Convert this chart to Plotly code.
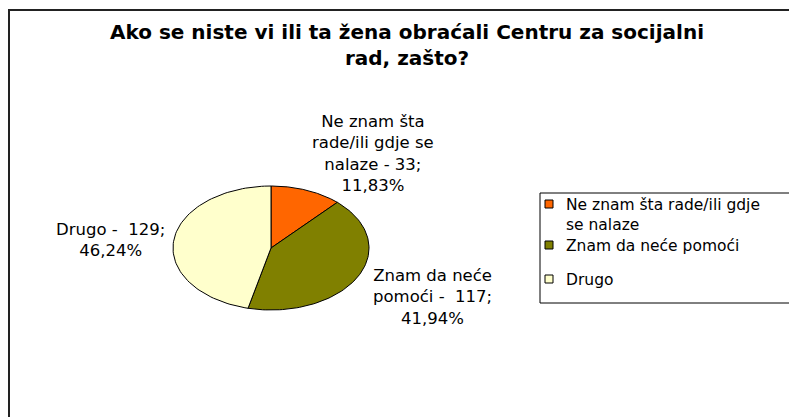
import numpy as np
import plotly.graph_objects as go

# podaci
kategorije = ["Ne znam šta rade/ili gdje se nalaze", "Znam da neće pomoći", "Drugo"]
legenda = ["Ne znam šta rade/ili gdje<br>se nalaze", "Znam da neće pomoći", "Drugo"]
vrijednosti = [33, 117, 129]
oznake = ["Ne znam šta<br>rade/ili gdje se<br>nalaze - 33;<br>11,83%",
          "Znam da neće<br>pomoći -  117;<br>41,94%",
          "Drugo -  129;<br>46,24%"]
boje = ["#FF6600", "#808000", "#FFFFCC"]

# koordinate su u pikselima prozora (stranica ima marginu od 8px)
off = 8
cx, cy, rx, ry = 271, 248, 98, 62
ukupno = sum(vrijednosti)
font = "DejaVu Sans"

fig = go.Figure()
pocetak = 0.0
for naziv, v, c in zip(kategorije, vrijednosti, boje):
    kraj = pocetak + v / ukupno * 2 * np.pi
    t = np.linspace(pocetak, kraj, 90)
    xs = np.concatenate([[cx], cx + rx * np.sin(t), [cx]])
    ys = np.concatenate([[cy], cy - ry * np.cos(t), [cy]])
    fig.add_trace(go.Scatter(x=xs, y=ys, mode="lines", fill="toself", fillcolor=c,
                             line=dict(color="black", width=1), name=naziv,
                             showlegend=False, hoverinfo="name"))
    pocetak = kraj

# oznake podataka
pozicije = [(373, 153), (432, 297), (110, 240)]
for txt, (x, y) in zip(oznake, pozicije):
    fig.add_annotation(x=x, y=y, text=txt, showarrow=False, xref="x", yref="y",
                       xanchor="center", yanchor="middle", align="center",
                       font=dict(family=font, size=16.5, color="black"))

# legenda
fig.add_shape(type="rect", xref="x", yref="y", x0=540, y0=193, x1=900, y1=303,
              line=dict(color="black", width=1))
leg_y = [204, 245, 279]
fig.add_trace(go.Scatter(x=[549] * 3, y=leg_y, mode="markers", showlegend=False,
                         hoverinfo="skip",
                         marker=dict(symbol="square", size=8, color=boje,
                                     line=dict(color="black", width=1))))
for txt, y in zip(legenda, leg_y):
    fig.add_annotation(x=564, y=y - 10, text=txt, showarrow=False,
                       xref="x", yref="y", xanchor="left", yanchor="top", align="left",
                       font=dict(family=font, size=15.5, color="black"))

# okvir grafika
fig.add_shape(type="rect", xref="x", yref="y", x0=9, y0=10, x1=900, y1=500,
              line=dict(color="#222222", width=2))

fig.update_layout(
    width=797, height=417,
    margin=dict(l=0, r=0, t=0, b=0),
    paper_bgcolor="white", plot_bgcolor="white",
    title=dict(text="<b>Ako se niste vi ili ta žena obraćali Centru za socijalni<br>rad, zašto?</b>",
               x=(407 - off) / 797, xanchor="center", y=1 - (39 - off) / 417,
               yanchor="middle", yref="container",
               font=dict(family=font, size=20, color="black")),
    xaxis=dict(range=[off, 797 + off], visible=False, fixedrange=True),
    yaxis=dict(range=[417 + off, off], visible=False, fixedrange=True),
    showlegend=False,
)

fig.write_html("out.html")
